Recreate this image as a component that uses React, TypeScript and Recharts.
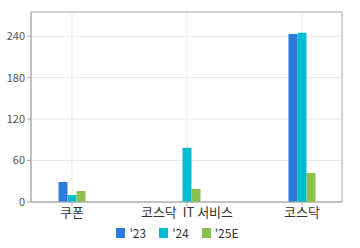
import React from 'react';
import { BarChart, Bar, XAxis, YAxis, CartesianGrid, Legend, ReferenceArea } from 'recharts';

const categories = ['쿠폰', '코스닥\u00A0\u00A0IT 서비스', '코스닥'];
const series23 = [29, null, 243];
const series24 = [10, 78.5, 245];
const series25E = [16, 19, 42];
const yTicks = [0, 60, 120, 180, 240];

const data = categories.map((name, i) => ({
  x: i,
  name,
  y23: series23[i],
  y24: series24[i],
  y25: series25E[i],
}));

const FONT = '"Noto Sans CJK KR", "DejaVu Sans", sans-serif';

const legendItems = [
  { label: "'23", color: '#2C7BDC' },
  { label: "'24", color: '#00BCD1' },
  { label: "'25E", color: '#8BC04F' },
];

const renderLegend = () => (
  <div style={{ display: 'flex', justifyContent: 'center', fontFamily: FONT, fontSize: 12, color: '#333', paddingLeft: 26 }}>
    {legendItems.map((it) => (
      <div key={it.label} style={{ display: 'flex', alignItems: 'center', marginRight: 13 }}>
        <div style={{ width: 9, height: 10, background: it.color, marginRight: 4 }} />
        <span>{it.label}</span>
      </div>
    ))}
  </div>
);

export default function App() {
  return (
    <div style={{ position: 'absolute', left: 0, top: 0, width: 360, height: 248, background: '#fff' }}>
      <BarChart
        width={360}
        height={248}
        data={data}
        margin={{ top: 12, right: 18, left: 0, bottom: 0 }}
        barGap={0}
        barSize={9}
      >
        <CartesianGrid stroke="#e8e8e8" vertical={true} horizontal={true} />
        <XAxis
          dataKey="x"
          type="number"
          domain={[-0.3565, 2.348]}
          ticks={[0, 1, 2]}
          interval={0}
          tickFormatter={(v: number) => categories[v]}
          tick={{ fill: '#333', fontSize: 13, fontFamily: FONT }}
          tickLine={{ stroke: '#b0b0b0' }}
          tickSize={4}
          axisLine={{ stroke: '#b0b0b0' }}
          height={22}
          allowDataOverflow
        />
        <YAxis
          domain={[0, 275]}
          ticks={yTicks}
          interval={0}
          tick={{ fill: '#555', fontSize: 11, fontFamily: FONT }}
          tickLine={{ stroke: '#b0b0b0' }}
          tickSize={4}
          tickMargin={2}
          axisLine={{ stroke: '#b0b0b0' }}
          width={31}
          allowDataOverflow
        />
        <ReferenceArea x1={-0.3565} x2={2.348} y1={0} y2={275} fill="none" stroke="#b0b0b0" ifOverflow="visible" />
        <Legend verticalAlign="bottom" height={24} content={renderLegend} />
        <Bar dataKey="y23" fill="#2C7BDC" isAnimationActive={false} />
        <Bar dataKey="y24" fill="#00BCD1" isAnimationActive={false} />
        <Bar dataKey="y25" fill="#8BC04F" isAnimationActive={false} />
      </BarChart>
    </div>
  );
}
